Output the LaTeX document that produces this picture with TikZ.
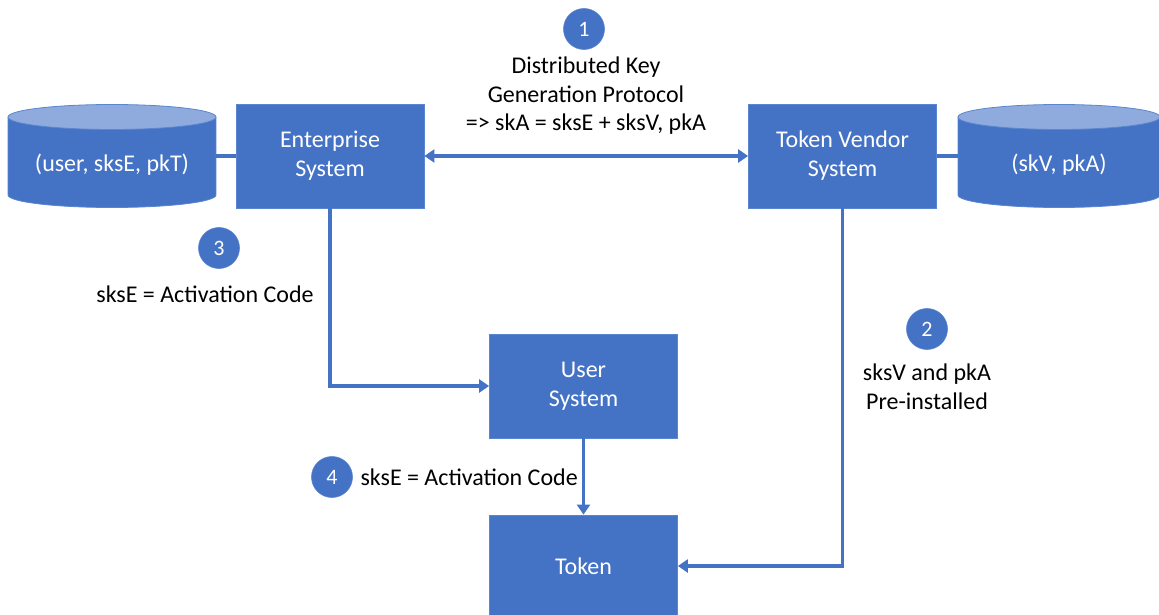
\documentclass[tikz,border=0pt]{standalone}
\usepackage{fontspec}
\setmainfont{Carlito}
\usetikzlibrary{arrows.meta}
\definecolor{blu}{HTML}{4472C4}
\definecolor{blutop}{HTML}{8FAADC}
\definecolor{bord}{HTML}{5A85D0}
\begin{document}
\begin{tikzpicture}[x=1pt,y=-1pt,
  box/.style={fill=blu, draw=bord, line width=0.8pt, text=white, font=\fontsize{24}{29}\selectfont, align=center, minimum width=188pt, minimum height=104pt, inner sep=0pt},
  dbbox/.style={draw=none, minimum width=208pt, minimum height=103pt, inner sep=0pt},
  dbtext/.style={text=white, font=\fontsize{24}{29}\selectfont},
  num/.style={circle, fill=blu, draw=bord, line width=0.6pt, text=white, minimum size=41pt, inner sep=0pt, font=\fontsize{22}{24}\selectfont},
  lbl/.style={text=black, align=center, font=\fontsize{24}{28.5}\selectfont},
  conn/.style={draw=blu, line width=3.4pt},
  tip/.tip={Triangle[length=10pt,width=13pt]},
  arr/.style={conn, -tip}
]
\useasboundingbox (0,0) rectangle (1159,615);

% cylinders (drawn shapes)
\newcommand{\cyl}[3]{% center x, half width, top y
  \fill[blu] (#1-#2,#3) rectangle (#1+#2,#3+78);
  \fill[blu] (#1,#3+78) ellipse [x radius=#2, y radius=12.5];
  \draw[bord, line width=0.8pt] (#1-#2,#3) -- (#1-#2,#3+78) arc[start angle=180, end angle=0, x radius=#2, y radius=12.5] -- (#1+#2,#3);
  \filldraw[fill=blutop, draw=bord, line width=0.8pt] (#1,#3) ellipse [x radius=#2, y radius=12.5];
}
\cyl{112}{104}{117}
\cyl{1059}{101}{117}
\node[dbbox] (db1) at (112,156) {};
\node[dbtext] (db1t) at (112,165) {(user, sksE, pkT)};
\node[dbbox, minimum width=202pt] (db2) at (1059,156) {};
\node[dbtext] (db2t) at (1059,165) {(skV, pkA)};

% boxes
\node[box] (ent) at (330,156) {Enterprise\\System};
\node[box] (ven) at (842.5,156) {Token Vendor\\System};
\node[box] (usr) at (583.5,386) {User\\System};
\node[box, minimum height=102pt] (tok) at (583.5,566) {Token};

% connectors
\draw[conn] (db1.east) -- (ent.west);
\draw[conn] (ven.east) -- (db2.west);
\draw[conn, tip-tip] (ent.east) -- (ven.west);
\draw[arr] (ent.south) |- (usr.west);
\draw[arr] (usr.south) -- (tok.north);
\draw[arr] (ven.south) |- (tok.east);

% step numbers
\node[num] (n1) at (584,29) {1};
\node[num] (n2) at (927,329) {2};
\node[num] (n3) at (219,248) {3};
\node[num] (n4) at (332,477) {4};

% labels
\node[lbl] (l1) at (586,96) {Distributed Key\\Generation Protocol\\=> skA = sksE + sksV, pkA};
\node[lbl] (l3) at (205,294) {sksE = Activation Code};
\node[lbl, anchor=west] (l4) at (357,477) {sksE = Activation Code};
\node[lbl] (l2) at (927,387) {sksV and pkA\\Pre-installed};
\end{tikzpicture}
\end{document}
